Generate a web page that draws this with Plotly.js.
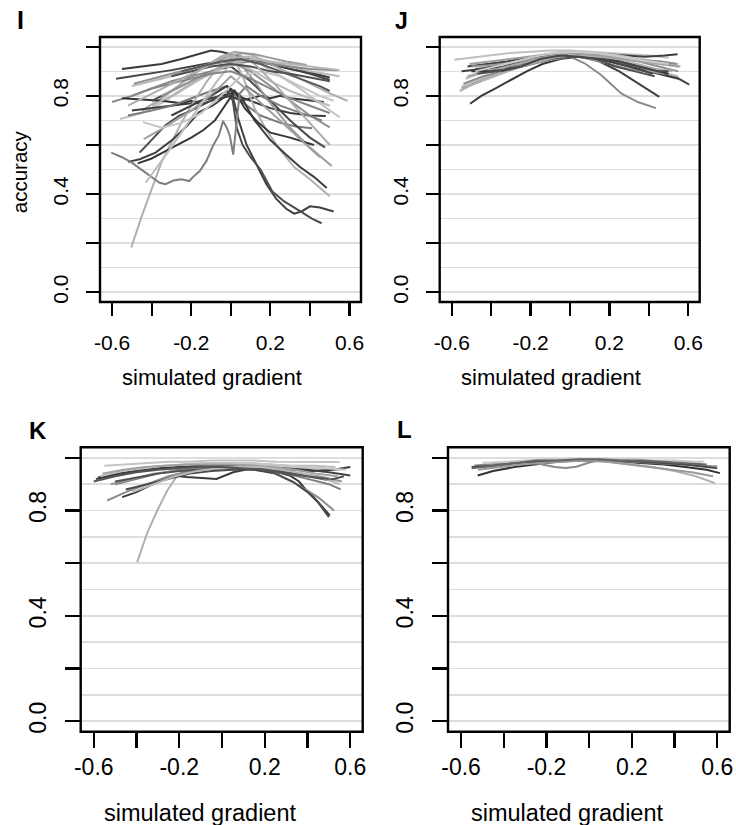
<!DOCTYPE html>
<html>
<head>
<meta charset="utf-8">
<script src="https://cdn.plot.ly/plotly-3.0.1.min.js"></script>
<style>html,body{margin:0;padding:0;background:#fff;}#chart{width:736px;height:825px;}</style>
</head>
<body>
<div id="chart"></div>
<script>
// ---------- tick labels ----------
const xTickVals = [-0.6, -0.4, -0.2, 0, 0.2, 0.4, 0.6];
const xTickText = ['-0.6', '', '-0.2', '', '0.2', '', '0.6'];
const yTickVals = [0, 0.2, 0.4, 0.6, 0.8, 1.0];
const yTickText = ['0.0', '', '0.4', '', '0.8', ''];
const yMinorVals = [0.1, 0.3, 0.5, 0.7, 0.9];
const panelLabels = ['I', 'J', 'K', 'L'];
const xTitle = 'simulated gradient';
const yTitle = 'accuracy';

// ---------- panel I ----------
const panelI_x = [
  [-0.55,-0.45,-0.35,-0.25,-0.15,-0.1,-0.05,0.0,0.1,0.2,0.3,0.4,0.5],
  [-0.58,-0.45,-0.3,-0.2,-0.1,0,0.1,0.2,0.3,0.4,0.5],
  [-0.45,-0.35,-0.25,-0.15,-0.05,0.02,0.1,0.2,0.3,0.4,0.5,0.59],
  [-0.5,-0.4,-0.3,-0.2,-0.1,0,0.1,0.2,0.3,0.4,0.55],
  [-0.6,-0.5,-0.4,-0.3,-0.2,-0.1,0,0.1,0.2,0.3,0.4,0.54],
  [-0.56,-0.45,-0.35,-0.25,-0.15,-0.05,0.05,0.15,0.25,0.35,0.45,0.55],
  [-0.55,-0.45,-0.35,-0.25,-0.2,-0.15,-0.1,-0.05,0,0.05,0.1,0.15,0.2,0.25,0.3,0.35,0.4,0.47],
  [-0.5,-0.4,-0.3,-0.2,-0.1,0,0.1,0.2,0.3,0.4,0.48],
  [-0.52,-0.4,-0.3,-0.2,-0.1,-0.02,0.05,0.15,0.25,0.33,0.41],
  [-0.49,-0.4,-0.3,-0.2,-0.1,0,0.1,0.2,0.3,0.4,0.5],
  [-0.4,-0.3,-0.2,-0.1,0,0.1,0.2,0.3,0.4,0.476],
  [-0.35,-0.25,-0.15,-0.05,0.03,0.1,0.2,0.3,0.4,0.51],
  [-0.503,-0.45,-0.4,-0.35,-0.3,-0.25,-0.2,-0.12,-0.04,0.01,0.06,0.12,0.18,0.25,0.32,0.4,0.5],
  [-0.3,-0.2,-0.1,-0.02,0.05,0.12,0.2,0.28,0.35,0.42,0.485],
  [-0.52,-0.46,-0.38,-0.29,-0.22,-0.16,-0.09,-0.02,0.0,0.04,0.08,0.13,0.18,0.23,0.28,0.32,0.36,0.4,0.45,0.52],
  [-0.461,-0.4,-0.33,-0.26,-0.2,-0.15,-0.09,-0.02,0.01,0.03,0.06,0.1,0.15,0.21,0.27,0.35,0.41,0.459],
  [-0.47,-0.4,-0.33,-0.27,-0.2,-0.14,-0.08,-0.03,0.02,0.07,0.14,0.2,0.3,0.42],
  [-0.604,-0.55,-0.5,-0.45,-0.4,-0.36,-0.33,-0.29,-0.25,-0.21,-0.19,-0.157,-0.123,-0.09,-0.06,-0.039,-0.02,-0.005,0.012,0.029,0.045,0.08,0.15,0.25,0.35,0.46],
  [-0.44,-0.36,-0.28,-0.2,-0.12,-0.05,0.0,0.06,0.14,0.22,0.3,0.38,0.45],
  [-0.43,-0.38,-0.31,-0.25,-0.19,-0.13,-0.07,-0.01,0.05,0.12,0.2,0.3,0.4,0.5],
  [-0.444,-0.35,-0.25,-0.15,-0.05,0.05,0.15,0.25,0.35,0.45,0.52],
  [-0.3,-0.2,-0.1,-0.02,0.05,0.12,0.2,0.28,0.383],
  [-0.4,-0.3,-0.2,-0.1,0,0.1,0.2,0.3,0.4,0.5,0.55],
  [-0.5,-0.4,-0.3,-0.2,-0.1,0,0.1,0.2,0.3,0.4,0.5],
  [-0.3,-0.2,-0.1,0,0.1,0.2,0.3,0.4,0.5],
  [-0.52,-0.42,-0.32,-0.22,-0.12,-0.04,0.04,0.12,0.22,0.32,0.42,0.5],
  [-0.25,-0.15,-0.05,0.05,0.15,0.25,0.35,0.45,0.5]
];
const panelI_y = [
  [0.91,0.92,0.93,0.95,0.975,0.985,0.98,0.97,0.95,0.93,0.91,0.895,0.875],
  [0.87,0.885,0.905,0.92,0.935,0.95,0.945,0.93,0.91,0.89,0.865],
  [0.74,0.79,0.85,0.91,0.96,0.98,0.97,0.93,0.89,0.85,0.81,0.78],
  [0.84,0.86,0.88,0.91,0.93,0.955,0.96,0.94,0.92,0.9,0.88],
  [0.775,0.8,0.83,0.86,0.88,0.9,0.93,0.94,0.93,0.92,0.91,0.905],
  [0.706,0.73,0.77,0.82,0.87,0.92,0.95,0.93,0.88,0.83,0.77,0.713],
  [0.79,0.785,0.78,0.77,0.78,0.765,0.78,0.79,0.8,0.78,0.79,0.8,0.79,0.8,0.79,0.785,0.78,0.775],
  [0.74,0.75,0.76,0.77,0.79,0.81,0.78,0.75,0.73,0.72,0.718],
  [0.72,0.74,0.76,0.79,0.82,0.84,0.78,0.72,0.69,0.675,0.668],
  [0.85,0.87,0.89,0.91,0.93,0.94,0.9,0.84,0.78,0.72,0.672],
  [0.78,0.82,0.86,0.9,0.92,0.86,0.78,0.7,0.63,0.59],
  [0.8,0.84,0.88,0.92,0.95,0.88,0.77,0.67,0.59,0.514],
  [0.182,0.31,0.42,0.53,0.61,0.69,0.76,0.86,0.94,0.96,0.88,0.75,0.66,0.58,0.51,0.46,0.391],
  [0.72,0.76,0.8,0.84,0.8,0.7,0.62,0.56,0.51,0.47,0.425],
  [0.531,0.542,0.569,0.624,0.679,0.734,0.761,0.802,0.83,0.7,0.6,0.52,0.44,0.38,0.34,0.32,0.33,0.35,0.345,0.329],
  [0.569,0.62,0.68,0.72,0.74,0.76,0.785,0.82,0.78,0.67,0.6,0.55,0.5,0.41,0.37,0.33,0.3,0.281],
  [0.525,0.545,0.575,0.6,0.63,0.66,0.7,0.76,0.82,0.75,0.69,0.65,0.63,0.6],
  [0.569,0.55,0.528,0.5,0.47,0.446,0.44,0.455,0.46,0.453,0.47,0.494,0.535,0.597,0.64,0.698,0.67,0.637,0.561,0.678,0.81,0.84,0.8,0.76,0.73,0.7],
  [0.624,0.66,0.7,0.74,0.79,0.84,0.88,0.84,0.78,0.72,0.66,0.6,0.55],
  [0.446,0.5,0.58,0.65,0.72,0.79,0.86,0.92,0.93,0.9,0.86,0.82,0.79,0.76],
  [0.693,0.67,0.69,0.73,0.8,0.88,0.9,0.88,0.84,0.8,0.78],
  [0.85,0.89,0.93,0.96,0.975,0.97,0.955,0.94,0.926],
  [0.76,0.8,0.85,0.89,0.93,0.95,0.94,0.93,0.92,0.91,0.905],
  [0.8,0.83,0.85,0.87,0.89,0.9,0.87,0.83,0.79,0.76,0.73],
  [0.88,0.9,0.92,0.93,0.92,0.9,0.89,0.875,0.86],
  [0.76,0.8,0.84,0.88,0.92,0.96,0.97,0.93,0.85,0.76,0.67,0.6],
  [0.9,0.92,0.94,0.95,0.93,0.9,0.87,0.84,0.82]
];
const panelI_shade = ['#3a3a3a','#454545','#aaaaaa','#b8b8b8','#8a8a8a','#c2c2c2','#333333','#3c3c3c','#7a7a7a','#8f8f8f','#4a4a4a','#9a9a9a','#b0b0b0','#3f3f3f','#404040','#4d4d4d','#363636','#7f7f7f','#a0a0a0','#bcbcbc','#c4c4c4','#999999','#b4b4b4','#858585','#505050','#aeaeae','#5a5a5a'];

// ---------- panel J ----------
const panelJ_x = [
  [-0.507,-0.45,-0.38,-0.31,-0.22,-0.14,-0.05,0.05,0.15,0.25,0.35,0.45,0.55],
  [-0.5,-0.4,-0.3,-0.2,-0.1,0,0.074,0.158,0.26,0.344,0.436],
  [-0.55,-0.45,-0.35,-0.25,-0.15,-0.05,0.05,0.15,0.25,0.35,0.453],
  [-0.587,-0.5,-0.4,-0.3,-0.2,-0.1,0,0.1,0.2,0.3,0.4,0.5],
  [-0.45,-0.35,-0.25,-0.15,-0.05,0.05,0.15,0.25,0.35,0.45,0.53,0.605],
  [-0.55,-0.45,-0.35,-0.25,-0.15,-0.05,0.05,0.15,0.25,0.35,0.45,0.55],
  [-0.53,-0.43,-0.33,-0.23,-0.13,-0.03,0.07,0.17,0.27,0.37,0.47,0.55],
  [-0.52,-0.42,-0.32,-0.22,-0.12,-0.02,0.08,0.18,0.28,0.38,0.48,0.546],
  [-0.5,-0.4,-0.3,-0.2,-0.1,0,0.1,0.2,0.3,0.4,0.48],
  [-0.48,-0.4,-0.3,-0.2,-0.1,0,0.1,0.2,0.3,0.42],
  [-0.55,-0.45,-0.35,-0.25,-0.15,-0.05,0.05,0.15,0.25,0.35,0.45,0.55],
  [-0.52,-0.42,-0.32,-0.22,-0.12,-0.02,0.08,0.18,0.28,0.38,0.48,0.55],
  [-0.5,-0.4,-0.3,-0.2,-0.1,0,0.1,0.2,0.3,0.4,0.5],
  [-0.45,-0.35,-0.25,-0.15,-0.05,0.05,0.15,0.25,0.35,0.45,0.55],
  [-0.54,-0.44,-0.34,-0.24,-0.14,-0.04,0.06,0.16,0.26,0.36,0.46,0.54],
  [-0.47,-0.37,-0.27,-0.17,-0.07,0.03,0.13,0.23,0.33,0.43],
  [-0.56,-0.46,-0.36,-0.26,-0.16,-0.06,0.04,0.14,0.24,0.34,0.44,0.52],
  [-0.51,-0.41,-0.31,-0.21,-0.11,-0.01,0.09,0.19,0.29,0.39,0.49,0.56],
  [-0.35,-0.25,-0.15,-0.05,0.05,0.15,0.25,0.35,0.45,0.5],
  [-0.48,-0.38,-0.28,-0.18,-0.08,0.02,0.12,0.22,0.32,0.42,0.5]
];
const panelJ_y = [
  [0.768,0.8,0.83,0.86,0.9,0.93,0.95,0.96,0.95,0.93,0.91,0.89,0.87],
  [0.85,0.88,0.91,0.93,0.95,0.96,0.933,0.885,0.81,0.775,0.75],
  [0.9,0.91,0.93,0.95,0.96,0.97,0.96,0.94,0.9,0.85,0.796],
  [0.947,0.955,0.965,0.975,0.98,0.985,0.985,0.98,0.975,0.97,0.965,0.955],
  [0.9,0.92,0.94,0.95,0.96,0.96,0.95,0.94,0.92,0.9,0.88,0.846],
  [0.83,0.86,0.89,0.92,0.945,0.96,0.97,0.965,0.955,0.94,0.92,0.9],
  [0.87,0.9,0.93,0.95,0.97,0.98,0.98,0.97,0.96,0.95,0.94,0.93],
  [0.92,0.93,0.94,0.955,0.965,0.975,0.975,0.97,0.965,0.96,0.965,0.97],
  [0.92,0.925,0.935,0.95,0.96,0.965,0.95,0.93,0.91,0.9,0.89],
  [0.91,0.915,0.92,0.94,0.955,0.97,0.96,0.94,0.92,0.89],
  [0.84,0.87,0.9,0.93,0.95,0.965,0.97,0.96,0.94,0.92,0.9,0.88],
  [0.88,0.9,0.92,0.94,0.96,0.97,0.97,0.96,0.95,0.94,0.93,0.92],
  [0.9,0.9,0.91,0.93,0.95,0.97,0.965,0.95,0.93,0.91,0.89],
  [0.86,0.89,0.92,0.945,0.96,0.975,0.975,0.965,0.95,0.93,0.92],
  [0.85,0.88,0.9,0.92,0.94,0.955,0.965,0.96,0.95,0.945,0.94,0.93],
  [0.89,0.9,0.92,0.94,0.955,0.96,0.95,0.92,0.9,0.88],
  [0.82,0.86,0.89,0.92,0.94,0.96,0.965,0.96,0.95,0.93,0.91,0.9],
  [0.93,0.94,0.95,0.96,0.97,0.975,0.97,0.96,0.95,0.94,0.93,0.92],
  [0.9,0.92,0.95,0.965,0.96,0.95,0.94,0.92,0.9,0.9],
  [0.9,0.92,0.94,0.96,0.975,0.98,0.975,0.965,0.95,0.94,0.93]
];
const panelJ_shade = ['#3a3a3a','#8a8a8a','#404040','#c0c0c0','#4a4a4a','#909090','#b8b8b8','#3f3f3f','#999999','#444444','#bdbdbd','#a3a3a3','#353535','#c4c4c4','#8c8c8c','#505050','#b0b0b0','#9e9e9e','#474747','#cacaca'];

// ---------- panel K ----------
const panelK_x = [
  [-0.397,-0.351,-0.303,-0.256,-0.209,-0.163,-0.1,0,0.1,0.2,0.3,0.4,0.5,0.55],
  [-0.467,-0.4,-0.337,-0.28,-0.228,-0.166,-0.104,-0.026,0.052,0.13,0.208,0.26,0.317,0.36,0.395,0.43,0.457,0.504],
  [-0.537,-0.45,-0.35,-0.25,-0.15,-0.05,0.05,0.15,0.25,0.35,0.45,0.524],
  [-0.59,-0.5,-0.4,-0.3,-0.2,-0.1,0,0.1,0.2,0.3,0.4,0.5,0.6],
  [-0.55,-0.45,-0.35,-0.25,-0.15,-0.05,0.05,0.15,0.25,0.35,0.45,0.55],
  [-0.5,-0.4,-0.3,-0.2,-0.1,0,0.1,0.2,0.3,0.4,0.5,0.555],
  [-0.58,-0.48,-0.38,-0.28,-0.18,-0.08,0.02,0.12,0.22,0.32,0.42,0.52,0.6],
  [-0.57,-0.47,-0.37,-0.27,-0.17,-0.07,0.03,0.13,0.23,0.33,0.43,0.53],
  [-0.45,-0.35,-0.25,-0.15,-0.05,0.05,0.15,0.25,0.33,0.4,0.45,0.5],
  [-0.52,-0.42,-0.32,-0.22,-0.12,-0.02,0.08,0.18,0.28,0.38,0.48,0.56],
  [-0.48,-0.38,-0.28,-0.18,-0.08,0.02,0.12,0.22,0.32,0.42,0.52,0.58],
  [-0.5,-0.4,-0.3,-0.2,-0.1,0,0.1,0.2,0.3,0.4,0.5,0.57],
  [-0.56,-0.46,-0.36,-0.26,-0.16,-0.06,0.04,0.14,0.24,0.34,0.44,0.54],
  [-0.42,-0.32,-0.22,-0.12,-0.02,0.08,0.18,0.28,0.38,0.48,0.55],
  [-0.6,-0.5,-0.4,-0.3,-0.2,-0.1,0,0.1,0.2,0.3,0.4,0.5]
];
const panelK_y = [
  [0.604,0.712,0.8,0.876,0.933,0.958,0.965,0.97,0.975,0.975,0.97,0.965,0.96,0.955],
  [0.851,0.87,0.895,0.915,0.933,0.927,0.924,0.92,0.945,0.958,0.951,0.945,0.933,0.91,0.876,0.85,0.825,0.781],
  [0.838,0.87,0.9,0.93,0.95,0.96,0.965,0.96,0.94,0.9,0.85,0.8],
  [0.92,0.935,0.95,0.96,0.965,0.97,0.97,0.97,0.965,0.96,0.955,0.945,0.933],
  [0.97,0.975,0.98,0.985,0.985,0.99,0.99,0.99,0.985,0.985,0.985,0.984],
  [0.9,0.92,0.94,0.955,0.96,0.965,0.96,0.95,0.94,0.92,0.9,0.88],
  [0.925,0.94,0.955,0.96,0.965,0.965,0.965,0.965,0.96,0.955,0.95,0.955,0.965],
  [0.93,0.95,0.96,0.97,0.975,0.98,0.98,0.98,0.975,0.97,0.97,0.965],
  [0.88,0.9,0.92,0.94,0.95,0.955,0.955,0.94,0.91,0.87,0.83,0.775],
  [0.9,0.92,0.94,0.95,0.96,0.965,0.965,0.96,0.95,0.94,0.925,0.91],
  [0.95,0.96,0.97,0.975,0.98,0.98,0.98,0.975,0.97,0.965,0.96,0.955],
  [0.91,0.925,0.94,0.95,0.955,0.96,0.96,0.955,0.945,0.93,0.915,0.93],
  [0.94,0.955,0.965,0.97,0.975,0.975,0.975,0.97,0.965,0.955,0.94,0.93],
  [0.87,0.9,0.93,0.95,0.96,0.965,0.965,0.955,0.94,0.92,0.9],
  [0.91,0.93,0.945,0.955,0.96,0.965,0.965,0.96,0.955,0.94,0.93,0.92]
];
const panelK_shade = ['#b0b0b0','#3a3a3a','#8c8c8c','#444444','#c4c4c4','#7e7e7e','#3c3c3c','#bcbcbc','#4a4a4a','#959595','#c8c8c8','#505050','#a0a0a0','#b6b6b6','#555555'];

// ---------- panel L ----------
const panelL_x = [
  [-0.522,-0.45,-0.35,-0.25,-0.15,-0.05,0.05,0.15,0.25,0.35,0.45,0.55,0.612],
  [-0.5,-0.4,-0.3,-0.2,-0.1,0,0.1,0.2,0.3,0.4,0.5,0.589],
  [-0.537,-0.45,-0.35,-0.28,-0.22,-0.16,-0.11,-0.06,0.0,0.045,0.1,0.2,0.3,0.4,0.5,0.6],
  [-0.55,-0.45,-0.35,-0.25,-0.15,-0.05,0.05,0.15,0.25,0.35,0.45,0.55,0.6],
  [-0.5,-0.4,-0.3,-0.2,-0.1,0,0.1,0.2,0.3,0.4,0.5,0.536],
  [-0.52,-0.42,-0.32,-0.22,-0.12,-0.02,0.08,0.18,0.28,0.38,0.48,0.58],
  [-0.55,-0.45,-0.35,-0.25,-0.15,-0.05,0.05,0.15,0.25,0.35,0.45,0.55]
];
const panelL_y = [
  [0.933,0.95,0.965,0.975,0.985,0.99,0.99,0.985,0.98,0.975,0.965,0.955,0.942],
  [0.965,0.975,0.985,0.99,0.99,0.99,0.985,0.975,0.965,0.95,0.93,0.904],
  [0.971,0.975,0.98,0.985,0.975,0.965,0.961,0.966,0.982,0.99,0.99,0.985,0.98,0.975,0.972,0.967],
  [0.965,0.97,0.98,0.985,0.99,0.99,0.99,0.99,0.985,0.98,0.975,0.965,0.96],
  [0.98,0.985,0.99,0.995,0.995,0.995,0.995,0.995,0.99,0.99,0.985,0.985],
  [0.955,0.965,0.975,0.98,0.985,0.99,0.985,0.975,0.965,0.955,0.945,0.93],
  [0.96,0.97,0.98,0.99,0.99,0.995,0.995,0.99,0.99,0.985,0.98,0.975]
];
const panelL_shade = ['#333333','#b0b0b0','#8a8a8a','#4a4a4a','#c8c8c8','#9a9a9a','#666666'];

// ---------- build ----------
const W = 736, H = 825;
const FONT = 'Liberation Sans, Arial, Helvetica, sans-serif';
const px = v => v / W;
const py = v => 1 - v / H;

function makeTraces(xs, ys, shades, xa, ya) {
  return xs.map((x, i) => ({
    type: 'scatter', mode: 'lines', x: x, y: ys[i], xaxis: xa, yaxis: ya,
    line: { color: shades[i], width: 2 }, hoverinfo: 'skip', showlegend: false
  }));
}

function xAxis(domain, anchor, fs, tl, so) {
  return {
    domain: domain, anchor: anchor, range: [-0.661, 0.658],
    tickmode: 'array', tickvals: xTickVals, ticktext: xTickText,
    ticks: 'outside', ticklen: tl, tickwidth: 2.2, tickcolor: '#000',
    ticklabelstandoff: so, automargin: false,
    showline: false, showgrid: false, zeroline: false, fixedrange: true,
    tickfont: { family: FONT, size: fs, color: '#000' }
  };
}
function yAxis(domain, anchor, fs, tl, so) {
  return {
    domain: domain, anchor: anchor, range: [-0.04, 1.04],
    tickmode: 'array', tickvals: yTickVals, ticktext: yTickText, tickangle: -90,
    ticks: 'outside', ticklen: tl, tickwidth: 2.2, tickcolor: '#000',
    ticklabelstandoff: so, automargin: false,
    showline: false, showgrid: true, gridcolor: '#dedede', gridwidth: 1.4, zeroline: false, fixedrange: true,
    minor: { tickvals: yMinorVals, showgrid: true, gridcolor: '#dedede', gridwidth: 1.4, ticks: '' },
    tickfont: { family: FONT, size: fs, color: '#000' }
  };
}

function box(xa, ya) {
  return { type: 'rect', xref: xa + ' domain', yref: ya + ' domain', x0: 0, x1: 1, y0: 0, y1: 1,
           line: { color: '#000', width: 2.4 }, fillcolor: 'rgba(0,0,0,0)', layer: 'above' };
}

const data = [].concat(
  makeTraces(panelI_x, panelI_y, panelI_shade, 'x', 'y'),
  makeTraces(panelJ_x, panelJ_y, panelJ_shade, 'x2', 'y2'),
  makeTraces(panelK_x, panelK_y, panelK_shade, 'x3', 'y3'),
  makeTraces(panelL_x, panelL_y, panelL_shade, 'x4', 'y4')
);

const topY = [py(302), py(37)];
const botY = [py(731.7), py(447.3)];

const layout = {
  width: W, height: H,
  margin: { l: 0, r: 0, t: 0, b: 0 },
  paper_bgcolor: '#fff', plot_bgcolor: '#fff',
  showlegend: false,
  xaxis:  xAxis([px(100), px(361)], 'y', 21, 13, 9),
  yaxis:  yAxis(topY, 'x', 21, 13, 10),
  xaxis2: xAxis([px(439.7), px(699.7)], 'y2', 21, 13, 9),
  yaxis2: yAxis(topY, 'x2', 21, 13, 9),
  xaxis3: xAxis([px(80.7), px(362.7)], 'y3', 23, 15, 8.5),
  yaxis3: yAxis(botY, 'x3', 23, 15, 10),
  xaxis4: xAxis([px(448), px(729.7)], 'y4', 23, 15, 8.5),
  yaxis4: yAxis(botY, 'x4', 23, 15, 10),
  shapes: [box('x', 'y'), box('x2', 'y2'), box('x3', 'y3'), box('x4', 'y4')],
  annotations: [
    { text: '<b>' + panelLabels[0] + '</b>', x: px(14.5), y: py(19.5), xanchor: 'left', yanchor: 'middle', font: { family: FONT, size: 25, color: '#000' } },
    { text: '<b>' + panelLabels[1] + '</b>', x: px(393), y: py(21.3), xanchor: 'left', yanchor: 'middle', font: { family: FONT, size: 23, color: '#000' } },
    { text: '<b>' + panelLabels[2] + '</b>', x: px(27), y: py(430), xanchor: 'left', yanchor: 'middle', font: { family: FONT, size: 24, color: '#000' } },
    { text: '<b>' + panelLabels[3] + '</b>', x: px(395), y: py(429), xanchor: 'left', yanchor: 'middle', font: { family: FONT, size: 24, color: '#000' } },
    { text: yTitle, x: px(19.5), y: py(171.7), textangle: -90, xanchor: 'center', yanchor: 'middle', font: { family: FONT, size: 20.5, color: '#000' } },
    { text: xTitle, x: px(212), y: py(377), xanchor: 'center', yanchor: 'middle', font: { family: FONT, size: 22, color: '#000' } },
    { text: xTitle, x: px(551.3), y: py(377), xanchor: 'center', yanchor: 'middle', font: { family: FONT, size: 22, color: '#000' } },
    { text: xTitle, x: px(200), y: py(813), xanchor: 'center', yanchor: 'middle', font: { family: FONT, size: 23.5, color: '#000' } },
    { text: xTitle, x: px(567), y: py(813), xanchor: 'center', yanchor: 'middle', font: { family: FONT, size: 23.5, color: '#000' } }
  ].map(a => Object.assign({ xref: 'paper', yref: 'paper', showarrow: false }, a))
};

Plotly.newPlot('chart', data, layout, { staticPlot: true, displayModeBar: false });
</script>
</body>
</html>
